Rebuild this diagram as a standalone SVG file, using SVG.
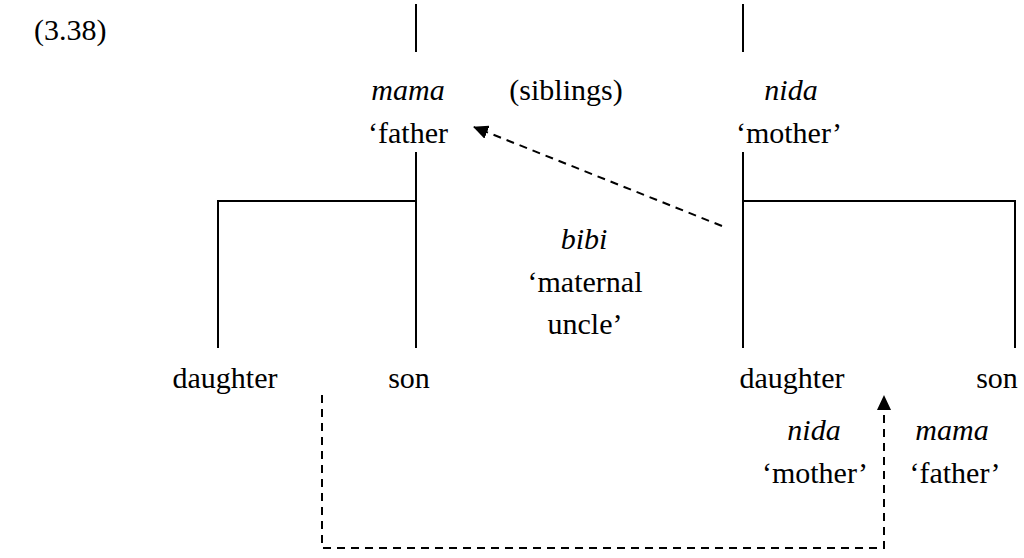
<svg xmlns="http://www.w3.org/2000/svg" width="1024" height="558" viewBox="0 0 1024 558">
<defs>
<style>
text{font-family:'Liberation Serif','Times New Roman',serif;font-size:30px;fill:#000}
.it{font-style:italic}
.solid{stroke:#000;stroke-width:2;fill:none}
.dash{stroke:#000;stroke-width:2;fill:none;stroke-dasharray:8,6}
</style>
<marker id="ah" viewBox="0 0 15 14" refX="14" refY="7" markerWidth="15" markerHeight="14" orient="auto" markerUnits="userSpaceOnUse">
<path d="M0,0 L15,7 L0,14 z" fill="#000"/>
</marker>
</defs>
<rect width="1024" height="558" fill="#fff"/>
<text x="34" y="40" font-family="Liberation Serif, serif">(3.38)</text>
<g id="connectors">
<path class="solid" d="M416,4 V52 M416,152 V348 M416,201 H218 V348"/>
<path class="solid" d="M743,4 V52 M743,152 V348 M743,201 H1015 V348"/>
<path class="dash" d="M722,226 L474,127" marker-end="url(#ah)"/>
<path class="dash" d="M322,395 V548 H884 V396" marker-end="url(#ah)"/>
</g>
<g id="node-father" font-family="Liberation Serif, serif">
<text class="it" x="408" y="100" text-anchor="middle">mama</text>
<text x="408" y="143" text-anchor="middle">‘father</text>
</g>
<g id="node-siblings" font-family="Liberation Serif, serif"><text x="566" y="100" text-anchor="middle">(siblings)</text></g>
<g id="node-mother" font-family="Liberation Serif, serif">
<text class="it" x="791" y="100" text-anchor="middle">nida</text>
<text x="789" y="143" text-anchor="middle">‘mother’</text>
</g>
<g id="node-uncle" font-family="Liberation Serif, serif">
<text class="it" x="584" y="249" text-anchor="middle">bibi</text>
<text x="585" y="292" text-anchor="middle">‘maternal</text>
<text x="585" y="334" text-anchor="middle">uncle’</text>
</g>
<g id="node-daughter-l" font-family="Liberation Serif, serif"><text x="225" y="388" text-anchor="middle">daughter</text></g>
<g id="node-son-l" font-family="Liberation Serif, serif"><text x="409" y="388" text-anchor="middle">son</text></g>
<g id="node-daughter-r" font-family="Liberation Serif, serif"><text x="792" y="388" text-anchor="middle">daughter</text></g>
<g id="node-son-r" font-family="Liberation Serif, serif"><text x="997" y="388" text-anchor="middle">son</text></g>
<g id="node-nida-r" font-family="Liberation Serif, serif">
<text class="it" x="814" y="440" text-anchor="middle">nida</text>
<text x="815" y="483" text-anchor="middle">‘mother’</text>
</g>
<g id="node-mama-r" font-family="Liberation Serif, serif">
<text class="it" x="952" y="440" text-anchor="middle">mama</text>
<text x="955" y="483" text-anchor="middle">‘father’</text>
</g>
</svg>
